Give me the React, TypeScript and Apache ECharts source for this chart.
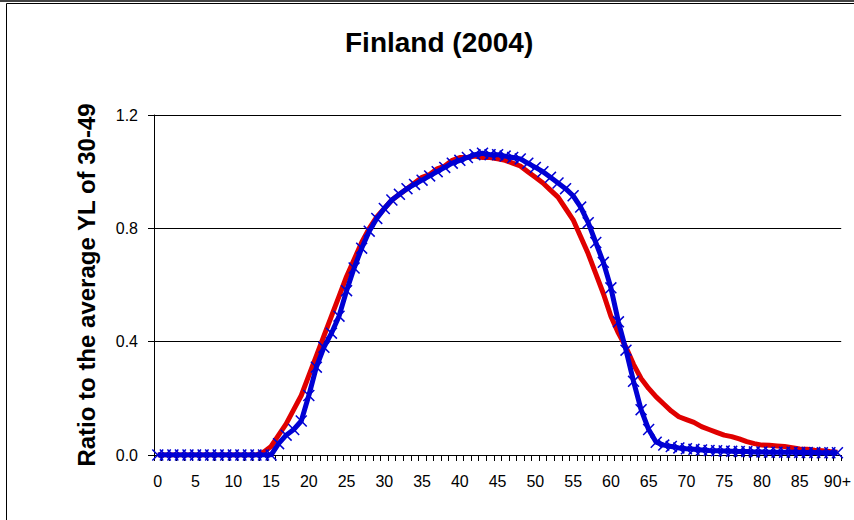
import React, { useEffect, useRef } from "react";
import * as echarts from "echarts";

const ageLabels: string[] = Array.from({ length: 90 }, (_, i) => String(i)).concat(["90+"]);

const yTicks = [0, 0.4, 0.8, 1.2];

// Red series (no markers)
const redSeries = [
  0, 0, 0, 0, 0, 0, 0, 0, 0, 0,
  0, 0, 0, 0, 0.01, 0.03, 0.07, 0.11, 0.16, 0.21,
  0.28, 0.35, 0.42, 0.49, 0.56, 0.63, 0.69, 0.75, 0.80, 0.84,
  0.87, 0.90, 0.92, 0.94, 0.96, 0.98, 0.99, 1.01, 1.02, 1.04,
  1.05, 1.05, 1.055, 1.05, 1.05, 1.045, 1.04, 1.03, 1.02, 1.0,
  0.98, 0.96, 0.935, 0.91, 0.87, 0.83, 0.77, 0.71, 0.64, 0.57,
  0.49, 0.43, 0.38, 0.32, 0.27, 0.235, 0.205, 0.18, 0.155, 0.135,
  0.125, 0.115, 0.10, 0.09, 0.08, 0.07, 0.065, 0.057, 0.047, 0.04,
  0.035, 0.034, 0.032, 0.03, 0.026, 0.021, 0.02, 0.017, 0.015, 0.012,
  0.01,
];

// Blue series (x markers)
const blueSeries = [
  0, 0, 0, 0, 0, 0, 0, 0, 0, 0,
  0, 0, 0, 0, 0, 0, 0.04, 0.07, 0.09, 0.12,
  0.21, 0.31, 0.38, 0.43, 0.49, 0.58, 0.66, 0.73, 0.79, 0.835,
  0.87, 0.90, 0.92, 0.94, 0.955, 0.97, 0.985, 1.0, 1.015, 1.03,
  1.04, 1.05, 1.06, 1.065, 1.06, 1.06, 1.055, 1.05, 1.045, 1.03,
  1.015, 1.0, 0.98, 0.96, 0.94, 0.915, 0.875, 0.82, 0.75, 0.68,
  0.59, 0.47, 0.37, 0.26, 0.16, 0.09, 0.045, 0.035, 0.03, 0.025,
  0.022, 0.02, 0.018, 0.016, 0.015, 0.014, 0.013, 0.012, 0.012, 0.011,
  0.011, 0.01, 0.01, 0.01, 0.01, 0.009, 0.009, 0.009, 0.008, 0.008,
  0.008,
];

const xSymbol =
  "path://M0,0.9L0.9,0L5,4.1L9.1,0L10,0.9L5.9,5L10,9.1L9.1,10L5,5.9L0.9,10L0,9.1L4.1,5Z";

const FONT = "'Liberation Sans', Arial, sans-serif";

export default function App() {
  const ref = useRef<HTMLDivElement>(null);
  useEffect(() => {
    if (!ref.current) return;
    const chart = echarts.init(ref.current, undefined, { renderer: "svg" });
    chart.setOption({
      animation: false,
      backgroundColor: "#ffffff",
      title: {
        text: "Finland (2004)",
        left: 340,
        top: 23,
        textStyle: { fontFamily: FONT, fontSize: 28, fontWeight: "bold", color: "#000" },
      },
      graphic: [
        { type: "rect", shape: { x: 0, y: 0, width: 854, height: 2 }, style: { fill: "#444" } },
        {
          type: "rect",
          shape: { x: 6.5, y: 3.5, width: 900, height: 600 },
          style: { fill: "none", stroke: "#000", lineWidth: 1 },
        },
      ],
      grid: { left: 154, top: 115, right: 12, bottom: 65, containLabel: false },
      xAxis: {
        type: "category",
        data: ageLabels,
        boundaryGap: true,
        axisLine: { lineStyle: { color: "#000", width: 1 } },
        axisTick: { show: true, interval: 0, length: 6, lineStyle: { color: "#000" } },
        axisLabel: {
          interval: 4,
          margin: 18,
          fontFamily: FONT,
          fontSize: 16,
          color: "#000",
        },
        splitLine: { show: false },
      },
      yAxis: {
        type: "value",
        min: yTicks[0],
        max: yTicks[yTicks.length - 1],
        interval: 0.4,
        name: "Ratio to the average YL of 30-49",
        nameLocation: "middle",
        nameGap: 56,
        nameTextStyle: { fontFamily: FONT, fontSize: 24, fontWeight: "bold", color: "#000" },
        axisLine: { show: true, lineStyle: { color: "#000", width: 1 } },
        axisTick: { show: true, length: 6, lineStyle: { color: "#000" } },
        axisLabel: {
          margin: 16,
          fontFamily: FONT,
          fontSize: 16,
          color: "#000",
          formatter: (v: number) => v.toFixed(1),
        },
        splitLine: { show: true, lineStyle: { color: "#000", width: 1 } },
      },
      series: [
        {
          name: "red",
          type: "line",
          data: redSeries,
          showSymbol: false,
          symbol: "none",
          lineStyle: { color: "#e00000", width: 5 },
          itemStyle: { color: "#e00000" },
        },
        {
          name: "blue",
          type: "line",
          data: blueSeries,
          symbol: xSymbol,
          symbolSize: 12,
          showAllSymbol: true,
          lineStyle: { color: "#0000d4", width: 5 },
          itemStyle: { color: "#0000d4" },
        },
      ],
    });
    return () => chart.dispose();
  }, []);
  return (
    <div
      ref={ref}
      style={{ position: "fixed", left: 0, top: 0, width: 854, height: 520, background: "#fff" }}
    />
  );
}
